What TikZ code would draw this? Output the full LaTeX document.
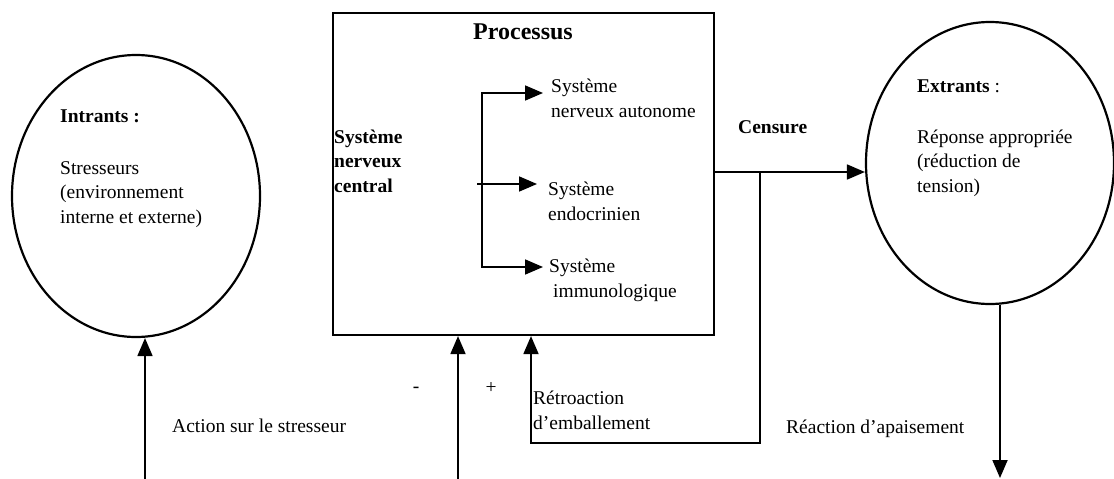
\documentclass[tikz,border=0pt]{standalone}
\usepackage{fontspec}
\setmainfont{Liberation Serif}
\usetikzlibrary{arrows.meta, positioning, shapes.geometric, calc}

\begin{document}
\begin{tikzpicture}[x=1pt, y=-1pt,
    every node/.style={font=\fontsize{19.5}{24.5}\selectfont},
    gras/.style={font=\fontsize{19.5}{24.5}\selectfont\bfseries},
    txt/.style={anchor=base west, inner sep=0pt, align=left},
    bulle/.style={draw, ellipse, line width=2.2pt, minimum width=248pt, minimum height=282pt, inner sep=0pt},
    boite/.style={draw, rectangle, line width=2.2pt, minimum width=381pt, minimum height=322pt, inner sep=0pt},
    arr/.style={-{Triangle[length=18pt,width=15pt]}, line width=1.8pt}]
    \useasboundingbox (0,0) rectangle (1114,479);

    % --- Intrants (base = last line) ---
    \node[bulle] (intrants) at (136,196) {};
    \node[txt, gras] (intitre) at (60,122) {Intrants :};
    \node[txt] (intexte) at (60,223) {Stresseurs\\(environnement\\interne et externe)};

    % --- Processus ---
    \node[boite] (processus) at (523.5,174) {};
    \node[anchor=base, inner sep=0pt, font=\fontsize{24}{28}\selectfont\bfseries] (titre) at (523,39) {Processus};
    \node[txt, gras] (snc) at (334,192) {Système\\nerveux\\central};
    \node[txt] (sna) at (551,117) {Système\\nerveux autonome};
    \node[txt] (endo) at (548,220) {Système\\endocrinien};
    \node[txt] (immuno) at (549,297) {Système\\\hspace*{4pt}immunologique};
    \coordinate (fork) at (482,184);
    \coordinate (forkin) at (477,184);
    \draw[arr] (fork) |- ([xshift=-8pt,yshift=24pt]sna.base west);
    \draw[arr] (fork) |- ([xshift=-6pt,yshift=30pt]immuno.base west);
    \draw[arr] (forkin) -- ([xshift=-11pt,yshift=36pt]endo.base west);

    % --- Extrants ---
    \node[bulle] (extrants) at (990,163) {};
    \node[txt] (extitre) at (917,92) {\textbf{Extrants} :};
    \node[txt] (extexte) at (917,192) {Réponse appropriée\\(réduction de\\tension)};

    % --- censure et rétroaction ---
    \node[txt, gras] (censure) at (738,133) {Censure};
    \coordinate (sortie) at ([yshift=2pt]processus.east);
    \draw[arr] (sortie) -- (sortie -| extrants.west);
    \coordinate (embranch) at (760,172);
    \coordinate (retour) at (531,443);
    \draw[arr] (embranch) |- (retour) -- (retour |- processus.south);
    \node[txt] (retro) at (533,429) {Rétroaction\\d’emballement};

    % --- bas ---
    \coordinate (pied1) at (145,479);
    \draw[arr] (pied1) -- (pied1 |- intrants.south);
    \coordinate (pied2) at (458,479);
    \draw[arr] (pied2) -- (pied2 |- processus.south);
    \coordinate (pied3) at (1000,478);
    \draw[arr] (pied3 |- extrants.south) -- (pied3);
    \node[txt] (action) at (172,432) {Action sur le stresseur};
    \node[txt] (apais) at (786,433) {Réaction d’apaisement};
    \node[inner sep=0pt] (moins) at (416,390) {-};
    \node[inner sep=0pt] (plus) at (491,388) {+};
\end{tikzpicture}
\end{document}
